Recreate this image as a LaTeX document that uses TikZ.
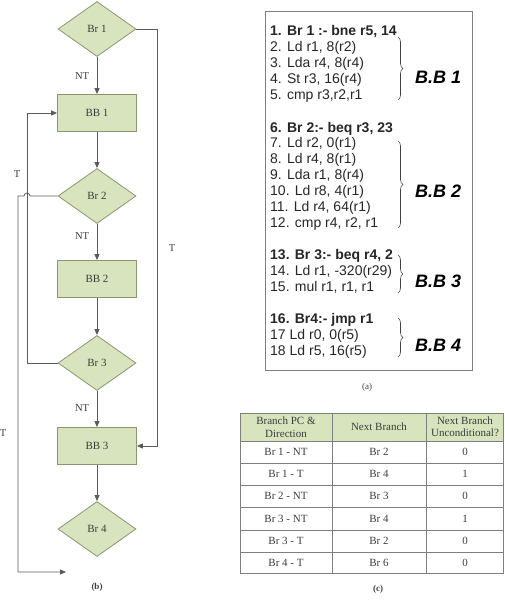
\documentclass[tikz,border=0pt]{standalone}
\usepackage{fontspec}
\setmainfont{Liberation Serif}
\newfontfamily\codefont{Liberation Sans}
\usetikzlibrary{shapes.geometric,arrows.meta,decorations.pathreplacing}

\definecolor{boxfill}{HTML}{D7E4BD}
\definecolor{boxedge}{HTML}{8A9670}
\definecolor{linegray}{HTML}{5A5A5A}
\definecolor{txtgray}{HTML}{3C3C3C}
\definecolor{gridgray}{HTML}{7F7F7F}

\tikzset{
	decision/.style={diamond, draw=boxedge, fill=boxfill, line width=0.8pt,
		minimum width=78pt, minimum height=55pt, inner sep=0pt,
		font=\fontsize{11}{13}\selectfont, text=txtgray},
	block/.style={rectangle, draw=boxedge, fill=boxfill, line width=0.8pt,
		minimum width=79pt, minimum height=37pt, inner sep=0pt,
		font=\fontsize{11}{13}\selectfont, text=txtgray},
	flow/.style={draw=linegray, line width=0.8pt, -{Triangle[length=6pt,width=5pt]}},
	lbl/.style={font=\fontsize{10.5}{12}\selectfont, text=txtgray},
	codeline/.style={anchor=base west, inner sep=0pt, text=black!85,
		font=\codefont\fontsize{14}{16}\selectfont},
	bblabel/.style={anchor=west, inner sep=0pt,
		font=\codefont\fontsize{18}{20}\selectfont\bfseries\itshape},
	brace/.style={decorate, decoration={brace, amplitude=5pt}, draw=black!75, line width=0.6pt},
	cell/.style={inner sep=0pt, align=center, text=txtgray,
		font=\fontsize{11}{12.5}\selectfont},
	caption/.style={font=\fontsize{9}{11}\selectfont, text=txtgray}
}

\begin{document}
\begin{tikzpicture}[x=1pt, y=-1pt]
	\useasboundingbox (0,0) rectangle (504,603);

	% (b) flow chart
	\node[decision] (br1) at (97,29)  {Br 1};
	\node[block]    (bb1) at (97,113) {BB 1};
	\node[decision] (br2) at (97,196) {Br 2};
	\node[block]    (bb2) at (97,279) {BB 2};
	\node[decision] (br3) at (97,363) {Br 3};
	\node[block]    (bb3) at (97,446) {BB 3};
	\node[decision] (br4) at (97,529) {Br 4};

	\draw[flow] (br1) -- (bb1);
	\draw[flow] (bb1) -- (br2);
	\draw[flow] (br2) -- (bb2);
	\draw[flow] (bb2) -- (br3);
	\draw[flow] (br3) -- (bb3);
	\draw[flow] (bb3) -- (br4);

	\node[lbl] (nt1) at (82,76)  {NT};
	\node[lbl] (nt2) at (82,236) {NT};
	\node[lbl] (nt3) at (82,408) {NT};

	% taken edges
	\coordinate (rside) at (157,29);
	\coordinate (lside) at (27,363);
	\coordinate (exit)  at (66,572);
	\draw[flow] (br1.east) -- (rside) |- (bb3.east);
	\draw[flow] (br3.west) -- (lside) |- (bb1.west);
	\draw[flow] (br2.west) -- (30,196) arc[start angle=0, end angle=180, radius=3pt]
		-- (18,196) |- (exit);

	\node[lbl] (t1) at (172,248) {T};
	\node[lbl] (t2) at (17,174)  {T};
	\node[lbl] (t3) at (3,433)   {T};

	\node[caption, font=\fontsize{9}{11}\selectfont\bfseries] (capb) at (97,587) {(b)};

	% (a) code listing
	\draw[gridgray, line width=1pt] (265.5,11) rectangle (472,370);
	\foreach \y/\t [count=\i] in {
		35/{\bfseries 1. Br 1 :- bne r5, 14},
		51/{2. Ld r1, 8(r2)},
		67/{3. Lda r4, 8(r4)},
		83/{4. St r3, 16(r4)},
		99/{5. cmp r3,r2,r1},
		132/{\bfseries 6. Br 2:- beq r3, 23},
		147/{7. Ld r2, 0(r1)},
		163/{8. Ld r4, 8(r1)},
		179/{9. Lda r1, 8(r4)},
		195/{10. Ld r8, 4(r1)},
		211/{11. Ld r4, 64(r1)},
		227/{12. cmp r4, r2, r1},
		259/{\bfseries 13. Br 3:- beq r4, 2},
		275/{14. Ld r1, -320(r29)},
		291/{15. mul r1, r1, r1},
		323/{\bfseries 16. Br4:- jmp r1},
		339/{17 Ld r0, 0(r5)},
		355/{18 Ld r5, 16(r5)}}
		\node[codeline] (l\i) at (270,\y) {\t};

	\draw[brace] (398,37)  -- (398,100);
	\draw[brace] (398,141) -- (398,228);
	\draw[brace] (398,255) -- (398,293);
	\draw[brace] (398,318) -- (398,357);
	\node[bblabel] (bbl1) at (415,77)  {B.B 1};
	\node[bblabel] (bbl2) at (415,191) {B.B 2};
	\node[bblabel] (bbl3) at (415,281) {B.B 3};
	\node[bblabel] (bbl4) at (415,345) {B.B 4};

	\node[caption] (capa) at (367,387) {(a)};

	% (c) table
	\fill[boxfill] (240,413) rectangle (503.5,441);
	\foreach \y in {441,463,485,507,530,552}
		\draw[gridgray, line width=0.8pt] (240,\y) -- (503.5,\y);
	\draw[gridgray, line width=0.8pt] (332,413) -- (332,573);
	\draw[gridgray, line width=0.8pt] (426,413) -- (426,573);
	\draw[gridgray, line width=1pt] (240,413) rectangle (503.5,573);

	\node[cell] (h1) at (286,427) {Branch PC \&\\Direction};
	\node[cell] (h2) at (379,427) {Next Branch};
	\node[cell] (h3) at (465,427) {Next Branch\\Unconditional?};
	\foreach \y/\a/\b/\c [count=\i] in {
		452/Br 1 - NT/Br 2/0,
		474/Br 1 - T/Br 4/1,
		496/Br 2 - NT/Br 3/0,
		518.5/Br 3 - NT/Br 4/1,
		541/Br 3 - T/Br 2/0,
		562.5/Br 4 - T/Br 6/0}{
		\node[cell] (r\i a) at (286,\y) {\a};
		\node[cell] (r\i b) at (379,\y) {\b};
		\node[cell] (r\i c) at (465,\y) {\c};
	}

	\node[caption, font=\fontsize{9}{11}\selectfont\bfseries] (capc) at (378,589) {(c)};
\end{tikzpicture}
\end{document}
